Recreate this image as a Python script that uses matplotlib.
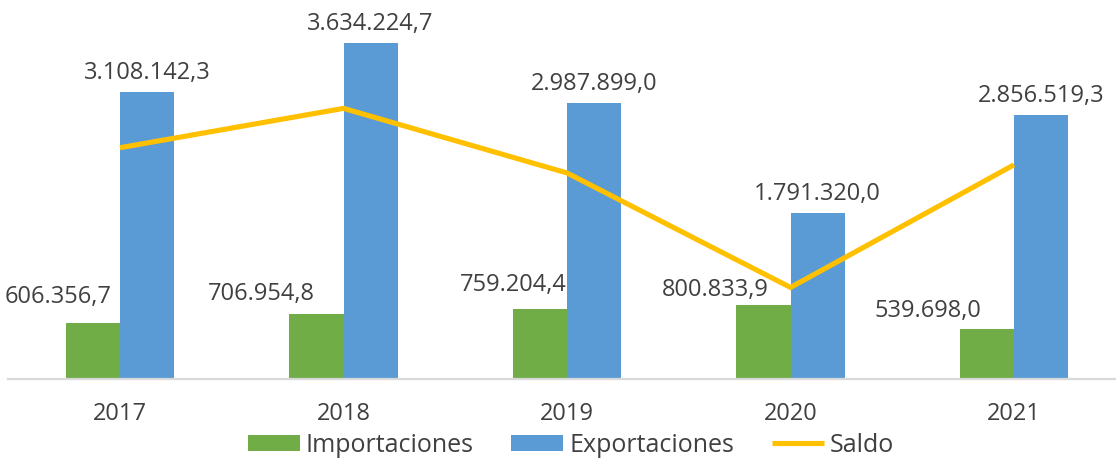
import matplotlib
matplotlib.use("Agg")
import matplotlib.pyplot as plt
import numpy as np

years = ["2017", "2018", "2019", "2020", "2021"]
importaciones = [606356.7, 706954.8, 759204.4, 800833.9, 539698.0]
exportaciones = [3108142.3, 3634224.7, 2987899.0, 1791320.0, 2856519.3]
saldo = [2501785.6, 2927269.9, 2228694.6, 990486.1, 2316821.3]

imp_labels = ["606.356,7", "706.954,8", "759.204,4", "800.833,9", "539.698,0"]
exp_labels = ["3.108.142,3", "3.634.224,7", "2.987.899,0", "1.791.320,0", "2.856.519,3"]

# label placement tweaks (pixels): x shift of right edge from category centre, y offset above bar
imp_dx = [-8, -29, 0, -22, -33]
imp_dy = [27, 21, 25, 16, 19]

GREEN = "#70AD47"
BLUE = "#5B9BD5"
GOLD = "#FFC000"
TXT = "#404040"

plt.rcParams['font.family'] = ['Open Sans', 'DejaVu Sans']

W, H = 1116, 460
fig = plt.figure(figsize=(W / 100, H / 100), dpi=100)
ax_left = 8.25 / W
ax_width = (223.5 * 5) / W
ax_bottom = (H - 380) / H
ax_height = 369.8 / H
ax = fig.add_axes([ax_left, ax_bottom, ax_width, ax_height])

x = np.arange(len(years))
bw = 0.242
b1 = ax.bar(x - bw / 2, importaciones, bw, color=GREEN, label="Importaciones", zorder=2)
b2 = ax.bar(x + bw / 2, exportaciones, bw, color=BLUE, label="Exportaciones", zorder=2)
l1, = ax.plot(x, saldo, color=GOLD, lw=3.7, label="Saldo", zorder=3,
              solid_joinstyle='miter', solid_capstyle='butt')

ax.set_xlim(-0.5, len(years) - 0.5)
ax.set_ylim(0, 4.0e6)

for i in range(len(years)):
    ax.annotate(exp_labels[i], (x[i] + bw / 2, exportaciones[i]),
                xytext=(0, 20), textcoords='offset pixels',
                ha='center', va='center', fontsize=17, color=TXT)
    ax.annotate(imp_labels[i], (x[i], importaciones[i]),
                xytext=(imp_dx[i], imp_dy[i]), textcoords='offset pixels',
                ha='right', va='center', fontsize=17, color=TXT)

for s in ["top", "right", "left"]:
    ax.spines[s].set_visible(False)
ax.spines["bottom"].set_color("#D9D9D9")
ax.spines["bottom"].set_linewidth(1.6)
ax.set_yticks([])
ax.set_xticks(x)
ax.set_xticklabels(years, fontsize=17, color=TXT)
ax.tick_params(axis='x', length=0, pad=16)

fig.legend([b1, b2, l1], ["Importaciones", "Exportaciones", "Saldo"],
           loc='center', bbox_to_anchor=(571 / W, 1 - 446 / H), ncol=3,
           frameon=False, fontsize=18, labelcolor=TXT, borderpad=0.1,
           handlelength=2.08, handleheight=0.6, handletextpad=0.24, columnspacing=1.5)

fig.savefig("out.png", dpi=100)
